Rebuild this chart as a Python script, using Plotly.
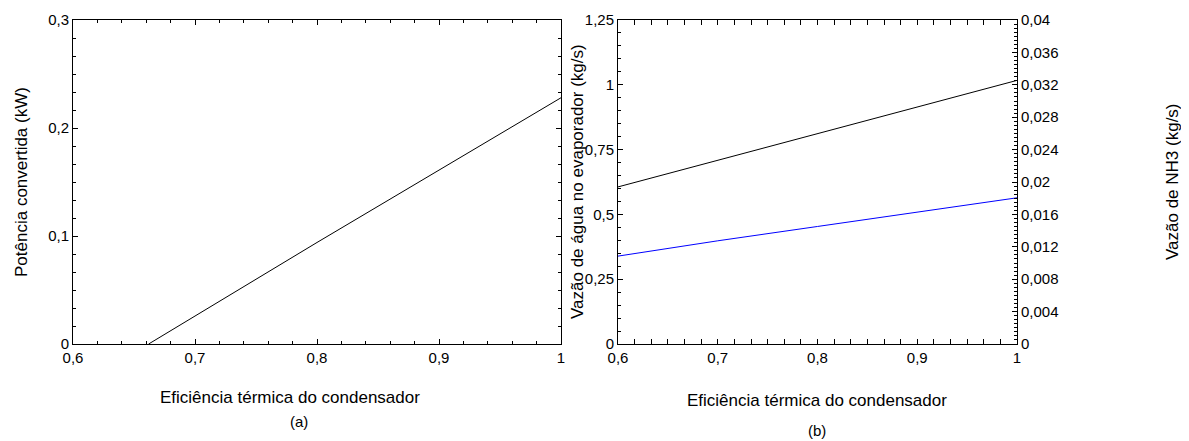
import plotly.graph_objects as go

# Panel (a)
eff_a = [0.662, 0.7, 0.8, 0.9, 1.0]
pot_a = [0.0, 0.026, 0.094, 0.161, 0.228]

# Panel (b)
eff_b = [0.6, 0.7, 0.8, 0.9, 1.0]
agua_b = [0.606, 0.709, 0.813, 0.915, 1.017]
nh3_b = [0.01085, 0.01274, 0.01451, 0.01632, 0.01805]

OFF = 8
W, H = 1189, 441
FONT = "Liberation Sans, Arial, sans-serif"

def px(x):
    return (x - OFF) / W

def py(y):
    return (H - (y - OFF)) / H

ax_top, ax_bot = 20, 344
a_l, a_r = 73, 561
b_l, b_r = 618, 1017

fig = go.Figure()
fig.add_trace(go.Scatter(x=eff_a, y=pot_a, mode="lines",
                         line=dict(color="black", width=1), xaxis="x", yaxis="y",
                         showlegend=False))
fig.add_trace(go.Scatter(x=eff_b, y=agua_b, mode="lines",
                         line=dict(color="black", width=1), xaxis="x2", yaxis="y2",
                         showlegend=False))
fig.add_trace(go.Scatter(x=eff_b, y=nh3_b, mode="lines",
                         line=dict(color="#0000ff", width=1), xaxis="x2", yaxis="y3",
                         showlegend=False))

common = dict(showgrid=False, zeroline=False, showline=True, linecolor="black",
              linewidth=1, ticks="inside", ticklen=5, tickcolor="black", automargin=False,
              tickfont=dict(family=FONT, size=15, color="black"))

ydom = [py(ax_bot), py(ax_top)]

fig.update_layout(
    template="none",
    width=W, height=H,
    margin=dict(l=0, r=0, t=0, b=0, pad=0),
    paper_bgcolor="white", plot_bgcolor="white",
    font=dict(family=FONT, color="black"),
    xaxis=dict(domain=[px(a_l), px(a_r)], range=[0.6, 1.0], anchor="y",
               tickvals=[0.6, 0.7, 0.8, 0.9, 1.0], ticktext=["0,6", "0,7", "0,8", "0,9", "1"],
               mirror="allticks",
               minor=dict(dtick=0.02, ticklen=3, ticks="inside", tickcolor="black"),
               **common),
    yaxis=dict(domain=ydom, range=[0, 0.3], anchor="x",
               tickvals=[0, 0.1, 0.2, 0.3], ticktext=["0", "0,1", "0,2", "0,3"],
               mirror="allticks",
               minor=dict(dtick=0.1 / 6, ticklen=3, ticks="inside", tickcolor="black"),
               **common),
    xaxis2=dict(domain=[px(b_l), px(b_r)], range=[0.6, 1.0], anchor="y2",
                tickvals=[0.6, 0.7, 0.8, 0.9, 1.0], ticktext=["0,6", "0,7", "0,8", "0,9", "1"],
                mirror="allticks",
                minor=dict(dtick=0.1 / 6, ticklen=3, ticks="inside", tickcolor="black"),
                **common),
    yaxis2=dict(domain=ydom, range=[0, 1.25], anchor="x2",
                tickvals=[0, 0.25, 0.5, 0.75, 1.0, 1.25],
                ticktext=["0", "0,25", "0,5", "0,75", "1", "1,25"],
                minor=dict(dtick=0.05, ticklen=3, ticks="inside", tickcolor="black"),
                **common),
    yaxis3=dict(range=[0, 0.04], overlaying="y2", side="right", anchor="x2",
                tickvals=[0, 0.004, 0.008, 0.012, 0.016, 0.02, 0.024, 0.028, 0.032, 0.036, 0.04],
                ticktext=["0", "0,004", "0,008", "0,012", "0,016", "0,02", "0,024",
                          "0,028", "0,032", "0,036", "0,04"],
                minor=dict(dtick=0.0005, ticklen=3, ticks="inside", tickcolor="black"),
                **common),
)

ann = []
def add_text(x, y, text, angle=0, size=17):
    ann.append(dict(x=px(x), y=py(y), xref="paper", yref="paper", text=text,
                    showarrow=False, textangle=angle, xanchor="center", yanchor="middle",
                    font=dict(family=FONT, size=size, color="black")))

add_text(21, 182, "Potência convertida (kW)", angle=-90)
add_text(290, 397, "Eficiência térmica do condensador")
add_text(299, 421, "(a)", size=15)
add_text(577, 182, "Vazão de água no evaporador (kg/s)", angle=-90)
add_text(817, 400, "Eficiência térmica do condensador")
add_text(817, 430, "(b)", size=15)
add_text(1172, 182, "Vazão de NH3 (kg/s)", angle=-90)
fig.update_layout(annotations=ann)

fig.write_html("out.html")
